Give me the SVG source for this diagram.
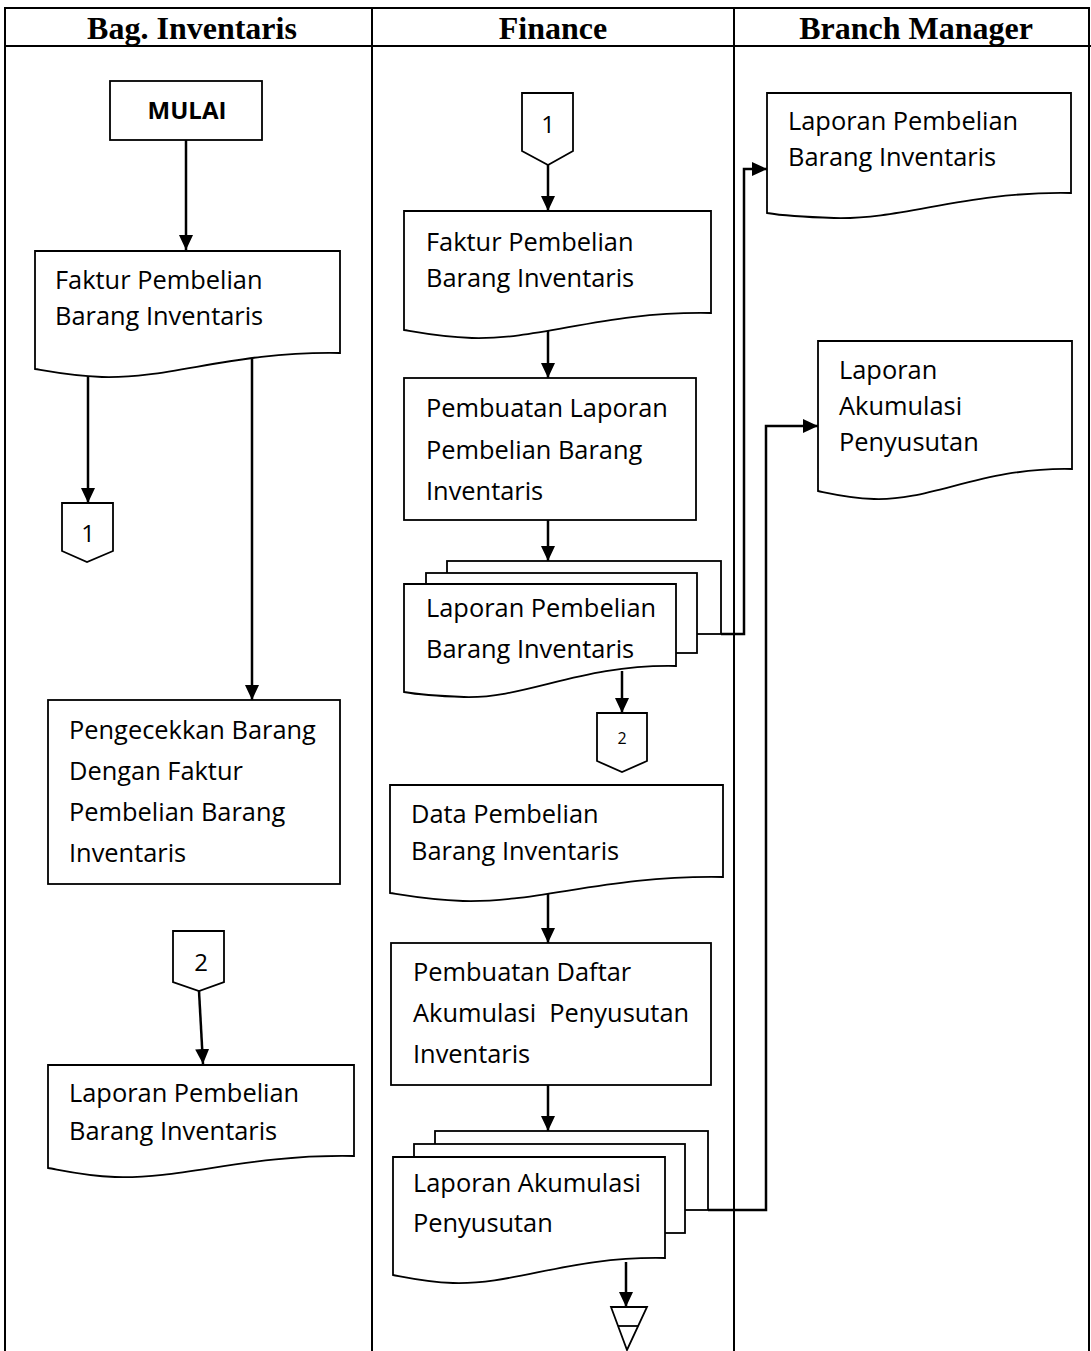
<svg xmlns="http://www.w3.org/2000/svg" width="1091" height="1351" viewBox="0 0 1091 1351">
<defs>
<style>
.tbl{fill:none;stroke:#000;stroke-width:2}
.shp{fill:#fff;stroke:#000;stroke-width:1.8}
.con{fill:none;stroke:#000;stroke-width:2.5}
.hdr{font-family:"Liberation Serif","Times New Roman",serif;font-weight:bold;font-size:32px;text-anchor:middle;fill:#000}
.t{font-family:"Open Sans","Liberation Sans",sans-serif;font-size:25.4px;fill:#000}
.c{font-family:"Open Sans","Liberation Sans",sans-serif;font-size:24px;fill:#000;text-anchor:middle}
.b{font-family:"Open Sans","Liberation Sans",sans-serif;font-size:24px;font-weight:bold;fill:#000;text-anchor:middle}
</style>
<marker id="arr" markerUnits="userSpaceOnUse" markerWidth="16" markerHeight="14" refX="15" refY="7" orient="auto">
<path d="M0,0 L15,7 L0,14 Z" fill="#000"/>
</marker>
</defs>
<rect width="1091" height="1351" fill="#fff"/>
<g id="table">
<rect class="tbl" x="5" y="8" width="1084" height="1350"/>
<line class="tbl" x1="5" y1="46" x2="1091" y2="46"/>
<line class="tbl" x1="372" y1="8" x2="372" y2="1351"/>
<line class="tbl" x1="734" y1="8" x2="734" y2="1351"/>
<text class="hdr" x="192" y="39">Bag. Inventaris</text>
<text class="hdr" x="553" y="39">Finance</text>
<text class="hdr" x="916" y="39">Branch Manager</text>
</g>
<g id="connectors">
<line class="con" x1="186" y1="140" x2="186" y2="250" marker-end="url(#arr)"/>
<line class="con" x1="88" y1="374" x2="88" y2="503" marker-end="url(#arr)"/>
<line class="con" x1="252" y1="357" x2="252" y2="700" marker-end="url(#arr)"/>
<line class="con" x1="199" y1="991" x2="203" y2="1064" marker-end="url(#arr)"/>
<line class="con" x1="548" y1="165" x2="548" y2="211" marker-end="url(#arr)"/>
<line class="con" x1="548" y1="321" x2="548" y2="378" marker-end="url(#arr)"/>
<line class="con" x1="548" y1="520" x2="548" y2="561" marker-end="url(#arr)"/>
<line class="con" x1="622" y1="671" x2="622" y2="713" marker-end="url(#arr)"/>
<polyline class="con" points="721,634 744,634 744,169 767,169" marker-end="url(#arr)"/>
<line class="con" x1="548" y1="888" x2="548" y2="943" marker-end="url(#arr)"/>
<line class="con" x1="548" y1="1085" x2="548" y2="1131" marker-end="url(#arr)"/>
<line class="con" x1="626" y1="1262" x2="626" y2="1307" marker-end="url(#arr)"/>
<polyline class="con" points="708,1210 766,1210 766,426 818,426" marker-end="url(#arr)"/>
</g>
<g id="mulai">
<rect class="shp" x="110" y="81" width="152" height="59"/>
<text class="b" x="187" y="119">MULAI</text>
</g>
<g id="doc-faktur-bag">
<path class="shp" d="M35,251 H340 V353 C233,351 172,379 102,377 C72,376 47,371 35,369 Z"/>
<text class="t" x="55" y="289">Faktur Pembelian</text>
<text class="t" x="55" y="325">Barang Inventaris</text>
</g>
<g id="off-1-bag">
<path class="shp" d="M62,503 H113 V551 L87,562 L62,551 Z"/>
<text class="c" x="88" y="542">1</text>
</g>
<g id="pengecekkan">
<rect class="shp" x="48" y="700" width="292" height="184"/>
<text class="t" x="69" y="739">Pengecekkan Barang</text>
<text class="t" x="69" y="780">Dengan Faktur</text>
<text class="t" x="69" y="821">Pembelian Barang</text>
<text class="t" x="69" y="862">Inventaris</text>
</g>
<g id="off-2-bag">
<path class="shp" d="M173,931 H224 V982 L199,991 L173,982 Z"/>
<text class="c" x="201" y="971">2</text>
</g>
<g id="doc-laporan-bag">
<path class="shp" d="M48,1065 H354 V1156 C247,1154 186,1179 115,1177 C85,1176 60,1170 48,1168 Z"/>
<text class="t" x="69" y="1102">Laporan Pembelian</text>
<text class="t" x="69" y="1140">Barang Inventaris</text>
</g>
<g id="off-1-fin">
<path class="shp" d="M522,93 H573 V151 L548,165 L522,151 Z"/>
<text class="c" x="548" y="133">1</text>
</g>
<g id="doc-faktur-fin">
<path class="shp" d="M404,211 H711 V313 C604,311 542,340 472,338 C441,337 416,332 404,330 Z"/>
<text class="t" x="426" y="251">Faktur Pembelian</text>
<text class="t" x="426" y="287">Barang Inventaris</text>
</g>
<g id="pembuatan-laporan">
<rect class="shp" x="404" y="378" width="292" height="142"/>
<text class="t" x="426" y="417">Pembuatan Laporan</text>
<text class="t" x="426" y="459">Pembelian Barang</text>
<text class="t" x="426" y="500">Inventaris</text>
</g>
<g id="stack-laporan-pembelian">
<rect class="shp" x="447" y="561" width="274" height="73"/>
<rect class="shp" x="426" y="573" width="271" height="80"/>
<path class="shp" d="M404,584 H676 V666 C581,664 526,699 464,697 C437,696 415,694 404,692 Z"/>
<text class="t" x="426" y="617">Laporan Pembelian</text>
<text class="t" x="426" y="658">Barang Inventaris</text>
</g>
<g id="off-2-fin">
<path class="shp" d="M597,713 H647 V761 L622,772 L597,761 Z"/>
<text class="c" x="622" y="744" style="font-size:16px">2</text>
</g>
<g id="doc-data">
<path class="shp" d="M390,785 H723 V877 C606,875 540,903 463,901 C430,900 403,895 390,893 Z"/>
<text class="t" x="411" y="823">Data Pembelian</text>
<text class="t" x="411" y="860">Barang Inventaris</text>
</g>
<g id="pembuatan-daftar">
<rect class="shp" x="391" y="943" width="320" height="142"/>
<text class="t" x="413" y="981" xml:space="preserve">Pembuatan Daftar</text>
<text class="t" x="413" y="1022" xml:space="preserve">Akumulasi  Penyusutan</text>
<text class="t" x="413" y="1063">Inventaris</text>
</g>
<g id="stack-laporan-akumulasi">
<rect class="shp" x="435" y="1131" width="273" height="79"/>
<rect class="shp" x="414" y="1144" width="271" height="89"/>
<path class="shp" d="M393,1157 H665 V1258 C570,1256 515,1285 453,1283 C426,1282 404,1277 393,1275 Z"/>
<text class="t" x="413" y="1192">Laporan Akumulasi</text>
<text class="t" x="413" y="1232">Penyusutan</text>
</g>
<g id="end">
<path class="shp" d="M611,1307 H647 L627,1350 Z"/>
<line class="shp" x1="618" y1="1326" x2="638" y2="1326"/>
</g>
<g id="doc-laporan-bm">
<path class="shp" d="M767,93 H1071 V193 C965,191 904,220 834,218 C803,217 779,215 767,213 Z"/>
<text class="t" x="788" y="130">Laporan Pembelian</text>
<text class="t" x="788" y="166">Barang Inventaris</text>
</g>
<g id="doc-akumulasi-bm">
<path class="shp" d="M818,341 H1072 V469 C983,467 932,501 874,499 C848,498 828,493 818,491 Z"/>
<text class="t" x="839" y="379">Laporan</text>
<text class="t" x="839" y="415">Akumulasi</text>
<text class="t" x="839" y="451">Penyusutan</text>
</g>
</svg>
